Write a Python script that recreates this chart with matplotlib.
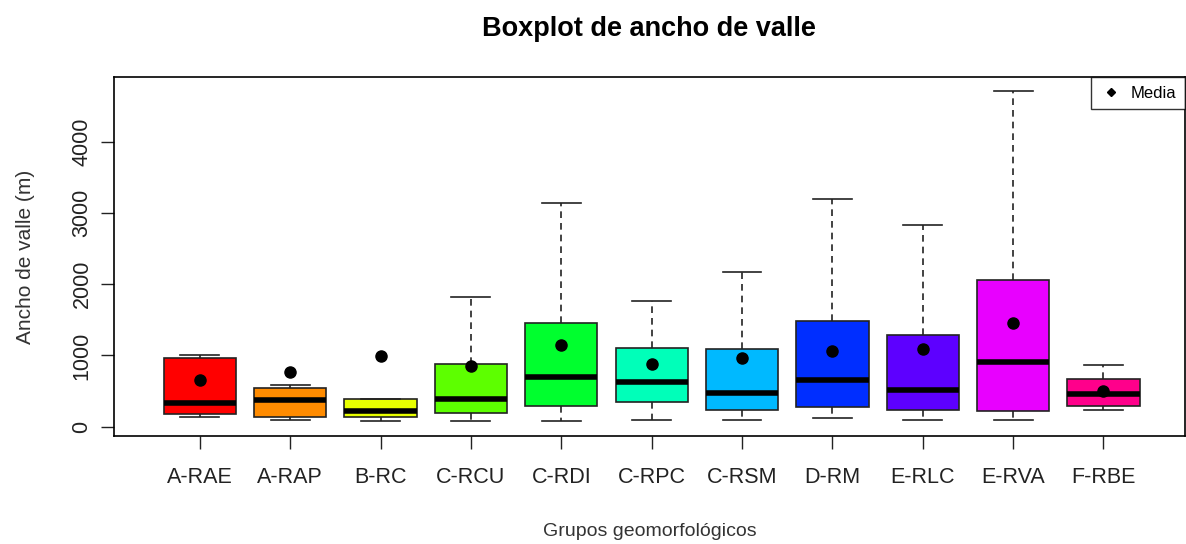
import colorsys
import matplotlib
matplotlib.use("Agg")
from matplotlib import pyplot as plt
from matplotlib.lines import Line2D

plt.rcParams['font.family'] = ['Liberation Sans', 'DejaVu Sans']

grupos = ["A-RAE", "A-RAP", "B-RC", "C-RCU", "C-RDI", "C-RPC",
          "C-RSM", "D-RM", "E-RLC", "E-RVA", "F-RBE"]
whislo = [136, 99, 80, 80, 80, 99, 99, 117, 99, 99, 234]
q1 = [173, 136, 136, 197, 295, 351, 234, 272, 234, 215, 295]
med = [333, 375, 215, 389, 693, 627, 468, 651, 515, 908, 459]
q3 = [969, 548, 389, 885, 1455, 1105, 1086, 1479, 1282, 2054, 669]
whishi = [1006, 590, 389, 1816, 3140, 1760, 2171, 3200, 2826, 4707, 866]
media = [651, 768, 988, 847, 1142, 885, 969, 1062, 1086, 1460, 505]

# colores tipo rainbow(11) de R
n = len(grupos)
colores = [colorsys.hsv_to_rgb(i / n, 1, 1) for i in range(n)]

stats = []
for i in range(n):
    stats.append(dict(label=grupos[i], whislo=whislo[i], q1=q1[i], med=med[i],
                      q3=q3[i], whishi=whishi[i], fliers=[]))

fig = plt.figure(figsize=(11.86, 5.44), dpi=100)
ax = fig.add_axes([0.0961, 0.199, 0.9029, 0.659])

pos = list(range(1, n + 1))
bp = ax.bxp(stats, positions=pos, widths=0.8, patch_artist=True,
            showfliers=False, capwidths=0.43,
            boxprops=dict(edgecolor="#222222", linewidth=1.2),
            medianprops=dict(color="black", linewidth=4, solid_capstyle="butt"),
            whiskerprops=dict(color="#222222", linewidth=1.2, linestyle=(0, (4, 3))),
            capprops=dict(color="#222222", linewidth=1.2))
for patch, c in zip(bp["boxes"], colores):
    patch.set_facecolor(c)

ax.plot(pos, media, "o", color="black", markersize=8, zorder=5)

ax.set_xlim(0.05, 11.9)
ax.set_ylim(-126, 4904)
ax.set_yticks([0, 1000, 2000, 3000, 4000])
ax.set_yticklabels(["0", "1000", "2000", "3000", "4000"], rotation=90, va="center")
ax.set_xticks(pos)
ax.set_xticklabels(grupos)
ax.tick_params(axis="both", length=9.5, width=1, labelsize=15.5, colors="#222222")
ax.tick_params(axis="x", pad=13)
ax.tick_params(axis="y", pad=6)
for s in ax.spines.values():
    s.set_linewidth(1.2)

ax.set_title("Boxplot de ancho de valle", fontsize=19.5, fontweight="bold", pad=30)
ax.set_xlabel("Grupos geomorfológicos", fontsize=14, color="#333333", labelpad=25)
ax.set_ylabel("Ancho de valle (m)", fontsize=15, color="#333333", labelpad=26)

h = Line2D([], [], marker="D", color="black", linestyle="none", markersize=4.5)
leg = ax.legend([h], ["Media"], loc="upper right", fontsize=12, frameon=True,
                fancybox=False, borderaxespad=0, handletextpad=0.5,
                borderpad=0.5, handlelength=1.4)
leg.get_frame().set_edgecolor("black")
leg.get_frame().set_linewidth(1)

fig.savefig("out.png", dpi=100)
